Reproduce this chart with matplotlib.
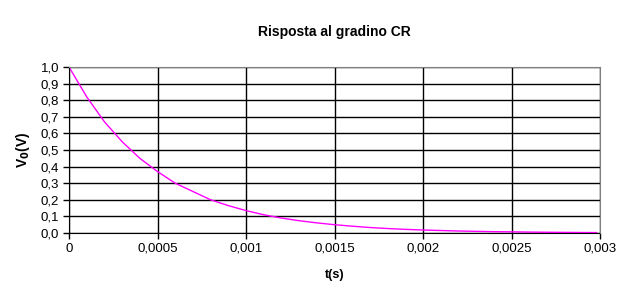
import numpy as np
import matplotlib
matplotlib.use('Agg')
import matplotlib.pyplot as plt
from matplotlib.ticker import FuncFormatter, MultipleLocator

plt.rcParams['font.family'] = ['Liberation Sans', 'DejaVu Sans']

# valori
t = [0, 0.0001, 0.0002, 0.0003, 0.0004, 0.0005, 0.0006, 0.0007, 0.0008, 0.0009,
     0.001, 0.0011, 0.0012, 0.0013, 0.0014, 0.0015, 0.0016, 0.0017, 0.0018, 0.0019,
     0.002, 0.0021, 0.0022, 0.0023, 0.0024, 0.0025, 0.0026, 0.0027, 0.0028, 0.0029, 0.00298]
vo = [1.0, 0.82, 0.67, 0.55, 0.45, 0.37, 0.30, 0.25, 0.20, 0.165,
      0.135, 0.11, 0.09, 0.074, 0.061, 0.05, 0.041, 0.033, 0.027, 0.022,
      0.018, 0.015, 0.012, 0.010, 0.008, 0.007, 0.0055, 0.0045, 0.0037, 0.003, 0.0026]

fig = plt.figure(figsize=(6.36, 3.03), dpi=100)
ax = fig.add_axes([0.1085, 0.231, 0.835, 0.548])

ax.plot(t, vo, color='#ff00ff', lw=1)

ax.set_xlim(0, 0.003)
ax.set_ylim(0, 1.0)
ax.xaxis.set_major_locator(MultipleLocator(0.0005))
ax.yaxis.set_major_locator(MultipleLocator(0.1))

def virgola_x(v, pos):
    if abs(v) < 1e-12:
        return '0'
    s = ('%.4f' % v).rstrip('0')
    return s.replace('.', ',')

ax.xaxis.set_major_formatter(FuncFormatter(virgola_x))
ax.yaxis.set_major_formatter(FuncFormatter(lambda v, p: ('%.1f' % v).replace('.', ',')))

ax.grid(True, color='black', lw=1)
ax.set_axisbelow(True)
for s in ['top', 'right']:
    ax.spines[s].set_color('#808080')
    ax.spines[s].set_zorder(3)
for s in ['left', 'bottom']:
    ax.spines[s].set_color('black')
ax.tick_params(direction='out', length=4, width=1, labelsize=9.5, color='black', pad=3)

ax.set_title('Risposta al gradino CR', fontsize=10, fontweight='bold', pad=22)
ax.set_xlabel('t(s)', fontsize=9, fontweight='bold', labelpad=10)
ax.set_ylabel(r'V$_\mathbf{0}$(V)', fontsize=10, fontweight='bold', labelpad=6)

fig.savefig('out.png', dpi=100)
